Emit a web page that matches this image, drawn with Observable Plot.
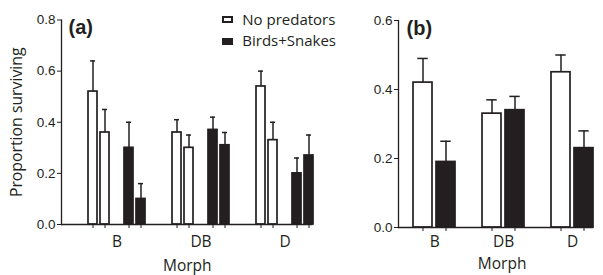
<!DOCTYPE html>
<html><head><meta charset="utf-8">
<script src="https://cdn.jsdelivr.net/npm/d3@7"></script>
<script src="https://cdn.jsdelivr.net/npm/@observablehq/plot@0.6"></script>
<style>
html,body{margin:0;padding:0;background:#fff;}
#wrap{position:relative;width:603px;height:275px;display:flex;overflow:hidden}
#wrap svg{display:block;flex:none}
.leg{position:absolute;font-family:"Open Sans";font-size:15px;line-height:15px;color:#231f20;white-space:nowrap}
.sw{position:absolute;width:11px;height:7px;box-sizing:border-box;border:2px solid #231f20}
</style></head><body>
<div id="wrap"></div>
<script>
// ---- data ----
const morphs = ["B", "DB", "D"];
const treatments = ["No predators", "Birds+Snakes"];
const yTicksA = [0, 0.2, 0.4, 0.6, 0.8];
const yTicksB = [0, 0.2, 0.4, 0.6];
const xTitle = "Morph";
const yTitle = "Proportion surviving";

// panel (a): two replicate bars per treatment within each morph
const aNoPred1 = [0.52, 0.36, 0.54];
const aNoPred1SE = [0.12, 0.05, 0.06];
const aNoPred2 = [0.36, 0.30, 0.33];
const aNoPred2SE = [0.09, 0.05, 0.07];
const aBirds1 = [0.30, 0.37, 0.20];
const aBirds1SE = [0.10, 0.05, 0.06];
const aBirds2 = [0.10, 0.31, 0.27];
const aBirds2SE = [0.06, 0.05, 0.08];

// panel (b)
const bNoPred = [0.42, 0.33, 0.45];
const bNoPredSE = [0.07, 0.04, 0.05];
const bBirds = [0.19, 0.34, 0.23];
const bBirdsSE = [0.06, 0.04, 0.05];

// ---- tables ----
const ink = "#231f20";
const aSeries = [
  {key: "NP1", treatment: treatments[0], mean: aNoPred1, se: aNoPred1SE},
  {key: "NP2", treatment: treatments[0], mean: aNoPred2, se: aNoPred2SE},
  {key: "BS1", treatment: treatments[1], mean: aBirds1, se: aBirds1SE},
  {key: "BS2", treatment: treatments[1], mean: aBirds2, se: aBirds2SE}
];
const bSeries = [
  {key: "NP", treatment: treatments[0], mean: bNoPred, se: bNoPredSE},
  {key: "BS", treatment: treatments[1], mean: bBirds, se: bBirdsSE}
];
const dataA = morphs.flatMap((m, i) => aSeries.map(s => ({
  morph: m, slot: m + "|" + s.key, treatment: s.treatment, mean: s.mean[i], upper: s.mean[i] + s.se[i]
})));
const dataB = morphs.flatMap((m, i) => bSeries.map(s => ({
  morph: m, slot: m + "|" + s.key, treatment: s.treatment, mean: s.mean[i], upper: s.mean[i] + s.se[i]
})));
const domA = morphs.flatMap((m, i) => [m + "|NP1", m + "|NP2", m + "|mid", m + "|BS1", m + "|BS2",
  ...(i < morphs.length - 1 ? [m + "|sep1", m + "|sep2"] : [])]);
const domB = morphs.flatMap((m, i) => [m + "|NP", m + "|BS", ...(i < morphs.length - 1 ? [m + "|sep"] : [])]);

const sansTitle = {fontFamily: "Open Sans", fontSize: 15.5, fill: ink, lineAnchor: "middle", textAnchor: "middle"};
const boldTag = {fontFamily: "Liberation Sans", fontWeight: "bold", fontSize: 20, fill: ink, lineAnchor: "middle", textAnchor: "start"};
const color = {domain: treatments, range: ["#ffffff", ink]};

// ---- panel (a) ----
const A = {w: 330, ml: 61, mr: 17.5, mt: 19.5, mb: 51, pi: 0.25, po: 0.3};
const plotA = Plot.plot({
  width: A.w, height: 275, marginLeft: A.ml, marginRight: A.mr, marginTop: A.mt, marginBottom: A.mb,
  style: {fontFamily: "Liberation Sans", fontSize: "13.5px", color: ink, background: "transparent", overflow: "visible"},
  x: {type: "band", domain: domA, paddingInner: A.pi, paddingOuter: A.po, align: 1, axis: null},
  y: {domain: [0, 0.8], axis: null},
  color,
  marks: [
    Plot.ruleX(dataA, {x: "slot", y1: "mean", y2: "upper", stroke: ink, strokeWidth: 1.5}),
    Plot.tickY(dataA, {x: "slot", y: "upper", stroke: ink, strokeWidth: 1.5, insetLeft: 2, insetRight: 2}),
    Plot.barY(dataA, {x: "slot", y: "mean", fill: "treatment", stroke: ink, strokeWidth: 1.7}),
    Plot.ruleY([0], {stroke: ink, strokeWidth: 1.3}),
    Plot.frame({anchor: "left", stroke: ink, strokeWidth: 1.3}),
    Plot.axisY({ticks: yTicksA, tickFormat: d3.format(".1f"), tickSize: 4, tickPadding: 2, label: null}),
    Plot.axisX({ticks: dataA.map(d => d.slot), tickSize: 4, tickFormat: () => "", label: null}),
    Plot.text(morphs, {x: m => m + "|mid", frameAnchor: "bottom", dy: 17.5, text: d => d, ...sansTitle}),
    Plot.text([xTitle], {frameAnchor: "bottom", dy: 41.7, text: d => d, ...sansTitle}),
    Plot.text([yTitle], {frameAnchor: "left", dx: -44.5, rotate: -90, text: d => d, ...sansTitle, fontSize: 15.8}),
    Plot.text(["(a)"], {frameAnchor: "top-left", dx: 7, dy: 7.4, text: d => d, ...boldTag})
  ]
});

// ---- panel (b) ----
const B = {w: 273, ml: 68, mr: 9.75, mt: 20, mb: 48, pi: 0.16, po: 0.274};
const bandB = d3.scaleBand(domB, [B.ml, B.w - B.mr]).paddingInner(B.pi).paddingOuter(B.po).align(1);
const halfStepB = bandB.step() / 2;
const plotB = Plot.plot({
  width: B.w, height: 275, marginLeft: B.ml, marginRight: B.mr, marginTop: B.mt, marginBottom: B.mb,
  style: {fontFamily: "Liberation Sans", fontSize: "13.5px", color: ink, background: "transparent", overflow: "visible"},
  x: {type: "band", domain: domB, paddingInner: B.pi, paddingOuter: B.po, align: 1, axis: null},
  y: {domain: [0, 0.6], axis: null},
  color,
  marks: [
    Plot.ruleX(dataB, {x: "slot", y1: "mean", y2: "upper", stroke: ink, strokeWidth: 1.5}),
    Plot.tickY(dataB, {x: "slot", y: "upper", stroke: ink, strokeWidth: 1.5, insetLeft: 4.3, insetRight: 4.3}),
    Plot.barY(dataB, {x: "slot", y: "mean", fill: "treatment", stroke: ink, strokeWidth: 1.7}),
    Plot.ruleY([0], {stroke: ink, strokeWidth: 1.3}),
    Plot.frame({anchor: "left", stroke: ink, strokeWidth: 1.3}),
    Plot.axisY({ticks: yTicksB, tickFormat: d3.format(".1f"), tickSize: 4, tickPadding: 2, label: null}),
    Plot.axisX({ticks: dataB.map(d => d.slot), tickSize: 4, tickFormat: () => "", label: null}),
    Plot.text(morphs, {x: m => m + "|NP", dx: halfStepB, frameAnchor: "bottom", dy: 14.9, text: d => d, ...sansTitle}),
    Plot.text([xTitle], {x: () => morphs[1] + "|NP", dx: halfStepB - 1.5, frameAnchor: "bottom", dy: 36.5, text: d => d, ...sansTitle}),
    Plot.text(["(b)"], {frameAnchor: "top-left", dx: 8, dy: 7.9, text: d => d, ...boldTag})
  ]
});

const wrap = document.getElementById("wrap");
wrap.append(plotA, plotB);

// ---- legend ----
const legTops = [16, 37.7];
const legTextTops = [11.7, 33.4];
treatments.forEach((t, i) => {
  const sw = document.createElement("div");
  sw.className = "sw";
  sw.style.left = "222.3px";
  sw.style.top = legTops[i] + "px";
  sw.style.background = color.range[i];
  const tx = document.createElement("div");
  tx.className = "leg";
  tx.style.left = "242.3px";
  tx.style.top = legTextTops[i] + "px";
  tx.textContent = t;
  wrap.append(sw, tx);
});
</script>
</body></html>
